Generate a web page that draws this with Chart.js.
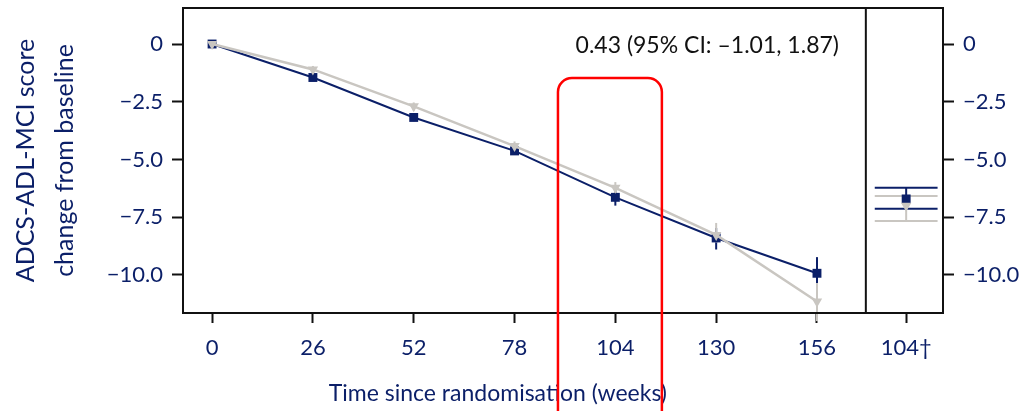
<!DOCTYPE html>
<html>
<head>
<meta charset="utf-8">
<script src="https://cdn.jsdelivr.net/npm/chart.js@4"></script>
<style>
  html, body { margin: 0; padding: 0; background: #fff; }
  canvas { display: block; }
</style>
</head>
<body>
<canvas id="chart" width="1033" height="411"></canvas>
<script>
// weeks since randomisation
const weeks = [0, 26, 52, 78, 104, 130, 156];

// navy series (squares) with 95% CI
const navyMean = [0, -1.45, -3.18, -4.63, -6.64, -8.4, -9.93];
const navyUpper = [0, -1.3, -3.02, -4.45, -6.32, -7.97, -9.23];
const navyLower = [0, -1.6, -3.34, -4.8, -7.0, -8.9, -10.55];

// grey series (triangles) with 95% CI
const greyMean = [0, -1.1, -2.7, -4.42, -6.23, -8.27, -11.15];
const greyUpper = [0, -0.95, -2.53, -4.22, -5.98, -7.75, -10.35];
const greyLower = [0, -1.25, -2.88, -4.62, -6.48, -8.6, -12.0];

// right hand panel, week 104 (dagger)
const panelWeek = 179;
const navyPanel = [-6.71, -6.23, -7.14]; // mean, upper, lower
const greyPanel = [-7.0, -6.58, -7.66];

const xTickValues = [0, 26, 52, 78, 104, 130, 156, panelWeek];
const xTickLabels = ["0", "26", "52", "78", "104", "130", "156", "104\u2020"];
const yTickValues = [0, -2.5, -5, -7.5, -10];
const yTickLabels = ["0", "\u22122.5", "\u22125.0", "\u22127.5", "\u221210.0"];

const xTitle = "Time since randomisation (weeks)";
const annotationText = "0.43 (95% CI: \u20131.01, 1.87)";

const NAVY = "#0b1f68";
const GREY = "#c9c6c1";

Chart.defaults.font.family = "Lato";

const toPoints = (xs, ys) => xs.map((v, i) => ({ x: v, y: ys[i] }));

// error bars drawn under the markers
const errorBars = {
	id: "errorBars",
	beforeDatasetsDraw(chart) {
		const { ctx, scales: { x, y } } = chart;
		const sets = [
			{ color: NAVY, xs: weeks, hi: navyUpper, lo: navyLower, cap: 0 },
			{ color: GREY, xs: weeks, hi: greyUpper, lo: greyLower, cap: 0 },
			{ color: NAVY, xs: [panelWeek], hi: [navyPanel[1]], lo: [navyPanel[2]], cap: 8.1 },
			{ color: GREY, xs: [panelWeek], hi: [greyPanel[1]], lo: [greyPanel[2]], cap: 8.1 },
		];
		ctx.save();
		ctx.lineWidth = 2;
		sets.forEach((s) => {
			ctx.strokeStyle = s.color;
			s.xs.forEach((wk, i) => {
				const px = x.getPixelForValue(wk);
				ctx.beginPath();
				ctx.moveTo(px, y.getPixelForValue(s.hi[i]));
				ctx.lineTo(px, y.getPixelForValue(s.lo[i]));
				ctx.stroke();
				if (s.cap) {
					const l = x.getPixelForValue(wk - s.cap);
					const r = x.getPixelForValue(wk + s.cap);
					[s.hi[i], s.lo[i]].forEach((v) => {
						const py = y.getPixelForValue(v);
						ctx.beginPath();
						ctx.moveTo(l, py);
						ctx.lineTo(r, py);
						ctx.stroke();
					});
				}
			});
		});
		ctx.restore();
	},
};

// frame, panel divider, texts and the red highlight box
const frame = {
	id: "frame",
	afterDraw(chart) {
		const { ctx, chartArea: a, scales: { x, y } } = chart;
		ctx.save();
		ctx.strokeStyle = "#111";
		ctx.lineWidth = 2;
		ctx.strokeRect(a.left, a.top, a.right - a.left, a.bottom - a.top);
		const sep = x.getPixelForValue(168.6);
		ctx.beginPath();
		ctx.moveTo(sep, a.top);
		ctx.lineTo(sep, a.bottom);
		ctx.stroke();

		ctx.textAlign = "center";
		ctx.textBaseline = "middle";
		ctx.fillStyle = "#111";
		ctx.font = "23px Lato";
		ctx.fillText(annotationText, x.getPixelForValue(127.7), y.getPixelForValue(-0.08));

		// x title sits left of the axis centre in the original
		ctx.fillStyle = NAVY;
		ctx.font = "23px Lato";
		ctx.fillText(xTitle, x.getPixelForValue(73.7), 394);

		ctx.strokeStyle = "#ff0000";
		ctx.lineWidth = 2.5;
		const bl = x.getPixelForValue(89.2);
		const br = x.getPixelForValue(116);
		const bt = y.getPixelForValue(-1.47);
		ctx.beginPath();
		ctx.roundRect(bl, bt, br - bl, chart.height + 40 - bt, 14);
		ctx.stroke();
		ctx.restore();
	},
};

const yAxis = (position, width) => ({
	type: "linear",
	position: position,
	min: -11.65,
	max: 1.56,
	border: { display: false },
	grid: {
		drawOnChartArea: false,
		drawTicks: true,
		tickLength: 11,
		tickWidth: 2,
		tickColor: "#111",
	},
	ticks: {
		color: NAVY,
		padding: 9,
		font: { size: 22 },
		callback: (v, i) => yTickLabels[i],
	},
	afterBuildTicks: (scale) => {
		scale.ticks = yTickValues.map((v) => ({ value: v }));
	},
	afterFit: (scale) => {
		scale.width = width;
		scale.paddingTop = 0;
		scale.paddingBottom = 0;
	},
});

const leftAxis = yAxis("left", 183);
leftAxis.title = {
	display: true,
	text: ["ADCS-ADL-MCI score", "change from baseline"],
	color: NAVY,
	font: { size: 25, lineHeight: 1.55 },
	padding: { top: 7, bottom: 0 },
};

new Chart(document.getElementById("chart"), {
	type: "scatter",
	data: {
		datasets: [
			{
				label: "grey",
				data: toPoints(weeks, greyMean),
				showLine: true,
				borderColor: GREY,
				backgroundColor: GREY,
				borderWidth: 2.5,
				pointStyle: "triangle",
				pointRotation: 180,
				pointRadius: 6,
				pointBorderWidth: 0,
			},
			{
				label: "navy",
				data: toPoints(weeks, navyMean),
				showLine: true,
				borderColor: NAVY,
				backgroundColor: NAVY,
				borderWidth: 2,
				pointStyle: "rect",
				pointRadius: 6.3,
				pointBorderWidth: 0,
			},
			{
				label: "grey 104",
				data: [{ x: panelWeek, y: greyPanel[0] }],
				backgroundColor: GREY,
				borderColor: GREY,
				pointStyle: "triangle",
				pointRotation: 180,
				pointRadius: 6,
				pointBorderWidth: 0,
			},
			{
				label: "navy 104",
				data: [{ x: panelWeek, y: navyPanel[0] }],
				backgroundColor: NAVY,
				borderColor: NAVY,
				pointStyle: "rect",
				pointRadius: 6.3,
				pointBorderWidth: 0,
			},
		],
	},
	options: {
		responsive: false,
		animation: false,
		devicePixelRatio: 1,
		layout: { padding: { top: 8, left: 0, right: 0, bottom: 0 } },
		plugins: {
			legend: { display: false },
			tooltip: { enabled: false },
		},
		scales: {
			x: {
				type: "linear",
				min: -7.5,
				max: 188.5,
				border: { display: false },
				grid: {
					drawOnChartArea: false,
					drawTicks: true,
					tickLength: 10,
					tickWidth: 2,
					tickColor: "#111",
				},
				ticks: {
					color: NAVY,
					padding: 12,
					maxRotation: 0,
					font: { size: 22 },
					callback: (v, i) => xTickLabels[i],
				},
				afterBuildTicks: (scale) => {
					scale.ticks = xTickValues.map((v) => ({ value: v }));
				},
				afterFit: (scale) => {
					scale.height = 98;
					scale.paddingLeft = 0;
					scale.paddingRight = 0;
				},
			},
			y: leftAxis,
			y2: yAxis("right", 90),
		},
	},
	plugins: [errorBars, frame],
});
</script>
</body>
</html>
